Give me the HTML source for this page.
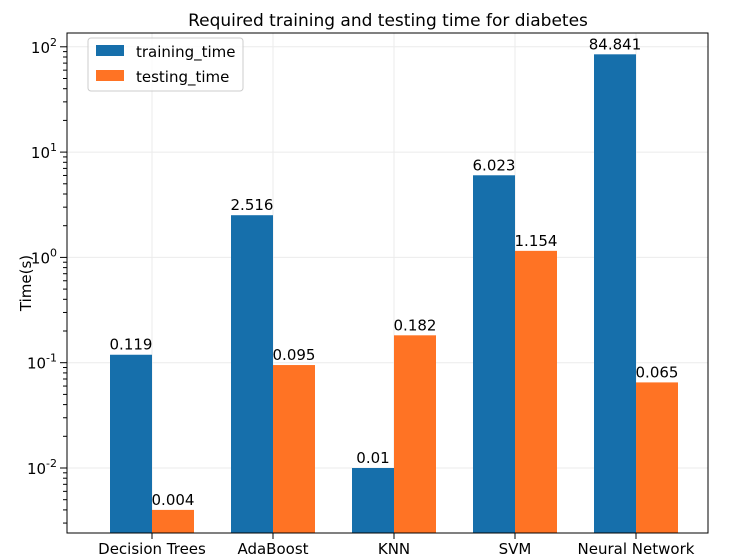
<!DOCTYPE html>
<html><head><meta charset="utf-8"><style>
body{margin:0;background:#fff;}
svg{display:block;font-family:"DejaVu Sans","Liberation Sans",sans-serif;}
</style></head><body>
<svg id="c" width="739" height="560">
<rect x="0" y="0" width="739" height="560" fill="#fff"/>
<text x="388" y="26" font-size="17" text-anchor="middle">Required training and testing time for diabetes</text>
<text transform="translate(31,283) rotate(-90)" font-size="15" text-anchor="middle">Time(s)</text>
<g id="grid"></g><g id="bars"></g><g id="labels"></g><g id="axes"></g>
<g>
<rect x="88" y="38" width="155" height="53" rx="3" fill="#fff" fill-opacity="0.8" stroke="#ccc"/>
<rect x="96" y="45" width="28" height="11" fill="#166fab"/>
<text x="136" y="57" font-size="15">training_time</text>
<rect x="96" y="70" width="28" height="11" fill="#ff7324"/>
<text x="136" y="82" font-size="15">testing_time</text>
</g>
</svg>
<script>
const categories=["Decision Trees","AdaBoost","KNN","SVM","Neural Network"];
const trainingTime=[0.119,2.516,0.01,6.023,84.841];
const testingTime=[0.004,0.095,0.182,1.154,0.065];
const yTicks=[-2,-1,0,1,2];
const L=67,R=708,T=33,B=533;
const dec=105.3, y0=468;
function ys(v){return y0-(Math.log10(v)+2)*dec;}
function xc(i){return 152+i*121;}
const bw=42;
const NS="http://www.w3.org/2000/svg";
function mk(t,a,p,txt){const e=document.createElementNS(NS,t);for(const k in a)e.setAttribute(k,a[k]);if(txt!==undefined)e.textContent=txt;p.appendChild(e);return e;}
const grid=document.getElementById('grid'),bars=document.getElementById('bars'),labels=document.getElementById('labels'),axes=document.getElementById('axes');
for(let t=-3;t<=2;t++){for(let m=2;m<10;m++){const yy=ys(m*Math.pow(10,t)); if(yy>T&&yy<B) mk('line',{x1:L-4,x2:L,y1:yy,y2:yy,stroke:'#000'},axes);}}
yTicks.forEach(t=>{const y=ys(Math.pow(10,t));
 const g=mk('line',{x1:L,x2:R,y1:y,y2:y,stroke:'#ebebeb'},grid);
 
 
 mk('line',{x1:L-7,x2:L,y1:y,y2:y,stroke:'#000'},axes);
 const tx=mk('text',{x:L-10,y:y+6,'font-size':15,'text-anchor':'end'},axes);
 
 
 tx.textContent='10';
 mk('tspan',{dy:-7,'font-size':11},tx,String(t));
});
categories.forEach((c,i)=>{const x=xc(i);
 const g=mk('line',{x1:x,x2:x,y1:T,y2:B,stroke:'#ebebeb'},grid);
 
 
 const b1=mk('rect',{x:x-bw,y:ys(trainingTime[i]),width:bw,height:B-ys(trainingTime[i]),fill:'#166fab'},bars);
 
 
 const b2=mk('rect',{x:x,y:ys(testingTime[i]),width:bw,height:B-ys(testingTime[i]),fill:'#ff7324'},bars);
 
 
 const l1=mk('text',{x:x-bw/2,y:ys(trainingTime[i])-5,'font-size':15,'text-anchor':'middle'},labels,String(trainingTime[i]));
 
 
 const l2=mk('text',{x:x+bw/2,y:ys(testingTime[i])-5,'font-size':15,'text-anchor':'middle'},labels,String(testingTime[i]));
 
 
 mk('line',{x1:x,x2:x,y1:B,y2:B+6,stroke:'#000'},axes);
 const xl=mk('text',{x:x,y:B+21,'font-size':15,'text-anchor':'middle'},axes,c);
 
 
});
const fr=mk('rect',{x:L,y:T,width:R-L,height:B-T,fill:'none',stroke:'#000'},axes);


</script>
</body></html>
